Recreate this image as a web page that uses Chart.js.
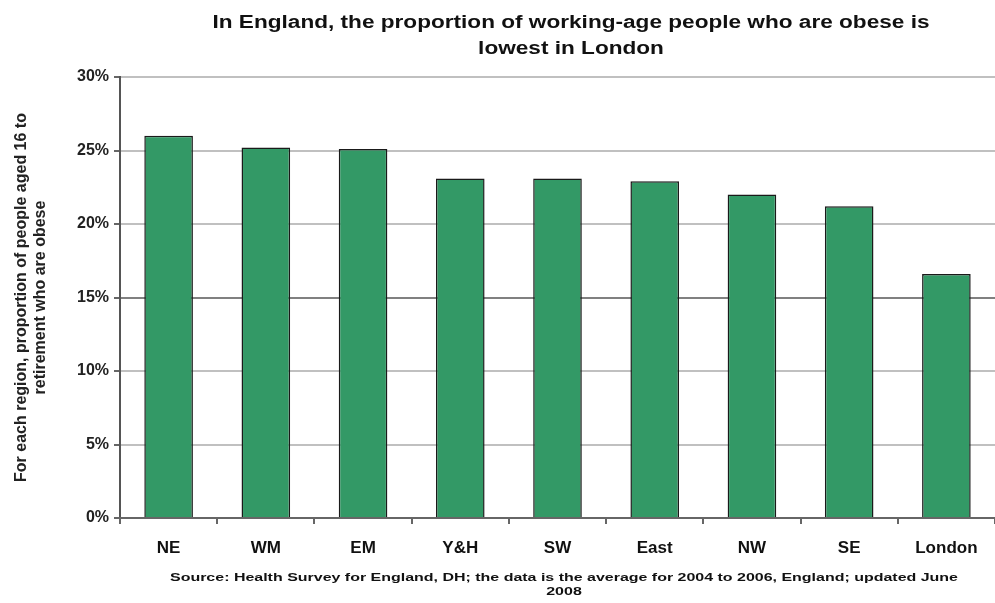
<!DOCTYPE html>
<html>
<head>
<meta charset="utf-8">
<script src="https://cdn.jsdelivr.net/npm/chart.js@4"></script>
<style>
  html, body { margin: 0; padding: 0; background: #fff; }
  #wrap { width: 995px; height: 603px; position: relative; }
</style>
</head>
<body>
<div id="wrap"><canvas id="chart" width="995" height="603"></canvas></div>
<script>
const regions = ['NE', 'WM', 'EM', 'Y&H', 'SW', 'East', 'NW', 'SE', 'London'];
const obeseShare = [26.0, 25.2, 25.1, 23.1, 23.1, 22.9, 22.0, 21.2, 16.6];
const yTicks = [0, 5, 10, 15, 20, 25, 30];

const titleLines = [
  'In England, the proportion of working-age people who are obese is',
  'lowest in London'
];
const yTitleLines = [
  'For each region, proportion of people aged 16 to',
  'retirement who are obese'
];
const sourceLines = [
  'Source: Health Survey for England, DH; the data is the average for 2004 to 2006, England; updated June',
  '2008'
];

const FONT = 'Arial, "Liberation Sans", sans-serif';

// title and source note, stretched sideways a little like the original picture
const textPlugin = {
  id: 'textPlugin',
  afterDraw(chart) {
    const ctx = chart.ctx;
    const drawBlock = (lines, x, y, gap, font, firstWidth) => {
      ctx.save();
      ctx.font = font;
      const sx = firstWidth / ctx.measureText(lines[0]).width;
      ctx.textAlign = 'center';
      ctx.textBaseline = 'middle';
      ctx.fillStyle = '#111';
      lines.forEach((txt, i) => {
        ctx.save();
        ctx.translate(x, y + i * gap);
        ctx.scale(sx, 1);
        ctx.fillText(txt, 0, 0);
        ctx.restore();
      });
      ctx.restore();
    };
    drawBlock(titleLines, 571, 23, 26, 'bold 18px ' + FONT, 717);
    drawBlock(sourceLines, 564, 578, 14, 'bold 11px ' + FONT, 788);
  }
};

new Chart(document.getElementById('chart').getContext('2d'), {
  type: 'bar',
  data: {
    labels: regions,
    datasets: [{
      data: obeseShare,
      backgroundColor: '#339966',
      borderColor: '#1a1a1a',
      borderWidth: 1.5,
      barPercentage: 0.5,
      categoryPercentage: 1.0
    }]
  },
  options: {
    responsive: false,
    animation: false,
    layout: { padding: { top: 77, right: 0, bottom: 40, left: 0 } },
    plugins: {
      legend: { display: false },
      tooltip: { enabled: false },
      title: { display: false }
    },
    scales: {
      y: {
        min: 0, max: 30,
        afterFit: (s) => { s.width = 120; },
        afterBuildTicks: (s) => { s.ticks = yTicks.map(v => ({ value: v })); },
        ticks: {
          padding: 5,
          color: '#222',
          font: { family: FONT, size: 16, weight: 'bold' },
          callback: (v) => v + '%'
        },
        grid: {
          color: (c) => c.tick && c.tick.value === 15 ? '#808080' : '#c0c0c0',
          lineWidth: 2,
          tickLength: 6,
          tickColor: '#666'
        },
        border: { color: '#555', width: 2 },
        title: {
          display: true,
          text: yTitleLines,
          color: '#222',
          font: { family: FONT, size: 16, weight: 'bold' },
          lineHeight: 1.375,
          padding: { top: 12, bottom: 0 }
        }
      },
      x: {
        afterFit: (s) => { s.height = 45; },
        ticks: {
          padding: 14,
          color: '#111',
          font: { family: FONT, size: 17, weight: 'bold' }
        },
        grid: {
          offset: true,
          drawOnChartArea: false,
          tickLength: 6,
          color: '#666',
          lineWidth: 2
        },
        border: { color: '#666', width: 2 }
      }
    }
  },
  plugins: [textPlugin]
});
</script>
</body>
</html>
